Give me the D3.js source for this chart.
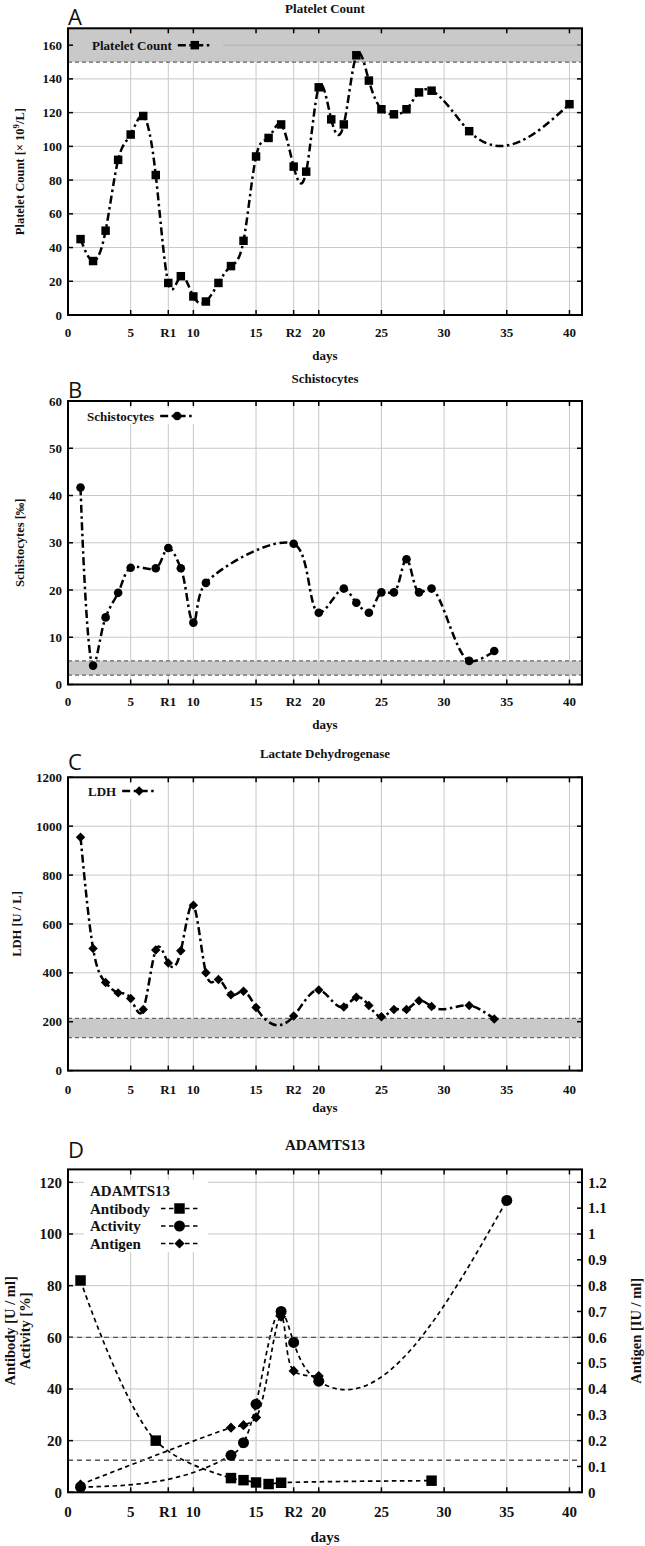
<!DOCTYPE html>
<html lang="en">
<head>
<meta charset="UTF-8">
<title>Lab course</title>
<script src="https://cdn.jsdelivr.net/npm/d3@7"></script>
<style>
  html, body { margin: 0; padding: 0; background: #fff; }
  svg { display: block; }
  text { font-family: "Liberation Serif", "Times New Roman", serif; font-weight: bold; fill: #111; }
  .letter { font-family: "Open Sans", "DejaVu Sans", sans-serif; font-weight: normal; }
</style>
</head>
<body>
<svg width="645" height="1546"></svg>
<script>
// x axis (days), R1 / R2 mark the two rituximab doses
var xTicks = [0, 5, 8, 10, 15, 18, 20, 25, 30, 35, 40];
var xTickLabels = ["0", "5", "R1", "10", "15", "R2", "20", "25", "30", "35", "40"];

// A - platelet count
var plateletDays  = [1, 2, 3, 4, 5, 6, 7, 8, 9, 10, 11, 12, 13, 14, 15, 16, 17, 18, 19, 20, 21, 22, 23, 24, 25, 26, 27, 28, 29, 32, 40];
var plateletCount = [45, 32, 50, 92, 107, 118, 83, 19, 23, 11, 8, 19, 29, 44, 94, 105, 113, 88, 85, 135, 116, 113, 154, 139, 122, 119, 122, 132, 133, 109, 125];
var plateletRange = [150, 450];

// B - schistocytes
var schistoDays   = [1, 2, 3, 4, 5, 7, 8, 9, 10, 11, 18, 20, 22, 23, 24, 25, 26, 27, 28, 29, 32, 34];
var schistoValues = [41.7, 4, 14.2, 19.4, 24.7, 24.6, 28.9, 24.6, 13.1, 21.5, 29.8, 15.2, 20.3, 17.3, 15.2, 19.5, 19.5, 26.5, 19.5, 20.3, 5, 7.1];
var schistoRange  = [2, 5];

// C - lactate dehydrogenase
var ldhDays   = [1, 2, 3, 4, 5, 6, 7, 8, 9, 10, 11, 12, 13, 14, 15, 18, 20, 22, 23, 24, 25, 26, 27, 28, 29, 32, 34];
var ldhValues = [955, 500, 360, 318, 295, 250, 493, 440, 490, 677, 400, 373, 310, 325, 258, 223, 330, 260, 300, 266, 220, 250, 250, 286, 262, 266, 211];
var ldhRange  = [135, 214];

// D - ADAMTS13
var antibodyDays   = [1, 7, 13, 14, 15, 16, 17, 29];
var antibodyValues = [82, 20, 5.5, 4.7, 3.8, 3.2, 3.7, 4.5];
var activityDays   = [1, 13, 14, 15, 17, 18, 20, 35];
var activityValues = [2, 14.3, 19.2, 34.1, 70, 58, 43, 113];
var antigenDays    = [1, 13, 14, 15, 17, 18, 20];
var antigenValues  = [0.03, 0.25, 0.26, 0.29, 0.68, 0.47, 0.45];
var adamtsLines    = [12.4, 60];

var svg = d3.select("svg");
var x = d3.scaleLinear().domain([0, 41]).range([68, 582]);
var midX = (x.range()[0] + x.range()[1]) / 2;

// natural cubic spline y(x), like gnuplot "smooth csplines"
function curveSplineX(context) {
    var pts;
    return {
        areaStart: function () {}, areaEnd: function () {},
        lineStart: function () { pts = []; },
        point: function (px, py) { pts.push([px, py]); },
        lineEnd: function () {
            var n = pts.length;
            if (!n) return;
            context.moveTo(pts[0][0], pts[0][1]);
            if (n < 3) { for (var k = 1; k < n; k++) context.lineTo(pts[k][0], pts[k][1]); return; }
            var h = [], M = new Array(n).fill(0), i;
            for (i = 0; i < n - 1; i++) h[i] = pts[i + 1][0] - pts[i][0];
            var cp = [], rp = [];
            for (i = 1; i < n - 1; i++) {
                var a = h[i - 1], b = 2 * (h[i - 1] + h[i]), c = h[i];
                var r = 6 * ((pts[i + 1][1] - pts[i][1]) / h[i] - (pts[i][1] - pts[i - 1][1]) / h[i - 1]);
                var den = b - (i > 1 ? a * cp[i - 1] : 0);
                cp[i] = c / den;
                rp[i] = (r - (i > 1 ? a * rp[i - 1] : 0)) / den;
            }
            for (i = n - 2; i >= 1; i--) M[i] = rp[i] - cp[i] * M[i + 1];
            for (i = 0; i < n - 1; i++) {
                var x0 = pts[i][0], y0 = pts[i][1], x1 = pts[i + 1][0], y1 = pts[i + 1][1], hh = h[i];
                var s = (y1 - y0) / hh;
                var d0 = s - hh * (2 * M[i] + M[i + 1]) / 6;
                var d1 = s + hh * (M[i] + 2 * M[i + 1]) / 6;
                context.bezierCurveTo(x0 + hh / 3, y0 + hh / 3 * d0, x1 - hh / 3, y1 - hh / 3 * d1, x1, y1);
            }
        }
    };
}
var curveCR = d3.curveCatmullRom.alpha(0.5);

var sq = function (s) { return d3.symbol(d3.symbolSquare, s)(); };
var ci = function (s) { return d3.symbol(d3.symbolCircle, s)(); };

function marker(g, type, size, px, py) {
    var m = g.append("path").attr("fill", "#000").attr("transform", "translate(" + px + "," + py + ")" + (type === "diamond" ? " rotate(45)" : ""));
    m.attr("d", type === "circle" ? ci(size) : sq(size));
}

// frame, grid, ticks, labels of one panel
function panel(o) {
    var g = svg.append("g");
    var y = d3.scaleLinear().domain(o.yDomain).range([o.bottom, o.top]);
    var x0 = x.range()[0], x1 = x.range()[1];
    var clipId = "clip" + o.letter;
    svg.append("clipPath").attr("id", clipId).append("rect")
        .attr("x", x0).attr("y", o.top).attr("width", x1 - x0).attr("height", o.bottom - o.top);

    // grid
    g.selectAll(".gx").data(xTicks).enter().append("line")
        .attr("x1", function (d) { return x(d); }).attr("x2", function (d) { return x(d); })
        .attr("y1", o.top).attr("y2", o.bottom).attr("stroke", "#c8c8c8").attr("stroke-width", 1);
    g.selectAll(".gy").data(o.yTicks).enter().append("line")
        .attr("x1", x0).attr("x2", x1)
        .attr("y1", function (d) { return y(d); }).attr("y2", function (d) { return y(d); })
        .attr("stroke", "#c8c8c8").attr("stroke-width", 1);

    // normal range band
    if (o.band) {
        var bt = Math.min(o.band[1], o.yDomain[1]);
        g.append("rect").attr("x", x0).attr("width", x1 - x0)
            .attr("y", y(bt)).attr("height", y(o.band[0]) - y(bt)).attr("fill", "#c9c9c9");
        o.band.forEach(function (v) {
            if (v >= o.yDomain[1]) return;
            g.append("line").attr("x1", x0).attr("x2", x1).attr("y1", y(v)).attr("y2", y(v))
                .attr("stroke", "#666").attr("stroke-width", 1.2).attr("stroke-dasharray", "4,3");
        });
    }

    // ticks inward
    var tl = 5;
    xTicks.forEach(function (d) {
        g.append("line").attr("x1", x(d)).attr("x2", x(d)).attr("y1", o.bottom).attr("y2", o.bottom - tl).attr("stroke", "#000").attr("stroke-width", 1.5);
        g.append("line").attr("x1", x(d)).attr("x2", x(d)).attr("y1", o.top).attr("y2", o.top + tl).attr("stroke", "#000").attr("stroke-width", 1.5);
    });
    o.yTicks.forEach(function (d) {
        g.append("line").attr("x1", x0).attr("x2", x0 + tl).attr("y1", y(d)).attr("y2", y(d)).attr("stroke", "#000").attr("stroke-width", 1.5);
        if (!o.y2) g.append("line").attr("x1", x1).attr("x2", x1 - tl).attr("y1", y(d)).attr("y2", y(d)).attr("stroke", "#000").attr("stroke-width", 1.5);
    });

    // tick labels
    g.selectAll(".xl").data(xTicks).enter().append("text")
        .attr("x", function (d) { return x(d); }).attr("y", o.xLabelY).attr("dy", "0.35em")
        .attr("text-anchor", "middle").attr("font-size", o.fs).text(function (d, i) { return xTickLabels[i]; });
    g.selectAll(".yl").data(o.yTicks).enter().append("text")
        .attr("x", x0 - 6).attr("y", function (d) { return y(d); }).attr("dy", "0.35em")
        .attr("text-anchor", "end").attr("font-size", o.fs).text(function (d) { return d; });

    g.append("text").attr("x", midX).attr("y", o.daysY).attr("dy", "0.35em").attr("text-anchor", "middle")
        .attr("font-size", o.fs).text("days");
    g.append("text").attr("x", midX).attr("y", o.titleY).attr("dy", "0.35em").attr("text-anchor", "middle")
        .attr("font-size", o.tfs).text(o.title);
    g.append("text").attr("class", "letter").attr("x", x0).attr("y", o.letterY).attr("dy", "0.36em")
        .attr("font-size", 22).text(o.letter);

    o.yLabel.forEach(function (t) {
        var lbl = g.append("text").attr("transform", "translate(" + t.x + "," + (o.top + o.bottom) / 2 + ") rotate(-90)")
            .attr("dy", "0.35em").attr("text-anchor", "middle").attr("font-size", o.lfs);
        if (t.sup) {
            lbl.append("tspan").text(t.text);
            lbl.append("tspan").attr("baseline-shift", "super").attr("font-size", o.lfs * 0.7).text(t.sup);
            lbl.append("tspan").text(t.after);
        } else lbl.text(t.text);
    });

    var plot = svg.append("g").attr("clip-path", "url(#" + clipId + ")");
    return { g: g, y: y, plot: plot, frame: function () {
        svg.append("rect").attr("x", x0).attr("y", o.top).attr("width", x1 - x0).attr("height", o.bottom - o.top)
            .attr("fill", "none").attr("stroke", "#000").attr("stroke-width", 2);
    } };
}

function series(p, y, days, vals, curve, type, size, style) {
    var pts = days.map(function (d, i) { return [x(d), y(vals[i])]; });
    p.plot.append("path").attr("d", d3.line().curve(curve)(pts))
        .attr("fill", "none").attr("stroke", "#000").attr("stroke-width", style.w).attr("stroke-dasharray", style.dash);
    var mg = svg.append("g");
    pts.forEach(function (q) { marker(mg, type, size, q[0], q[1]); });
}

function legendEntry(label, lx, ly, fs, type, size, style, sx0, sx1) {
    var t = svg.append("text").attr("x", lx).attr("y", ly).attr("dy", "0.35em").attr("font-size", fs).text(label);
    var a = sx0 != null ? sx0 : lx + t.node().getComputedTextLength() + 6;
    var b = sx1 != null ? sx1 : a + 34;
    svg.append("line").attr("x1", a).attr("x2", b).attr("y1", ly).attr("y2", ly)
        .attr("stroke", "#000").attr("stroke-width", style.w).attr("stroke-dasharray", style.dash);
    marker(svg, type, size, (a + b) / 2, ly);
}

var dashDot = { w: 2.5, dash: "8,3.5,2.5,3.5" };
var dashed = { w: 1.7, dash: "4.5,3.5" };

// ---------- A ----------
var pA = panel({ letter: "A", title: "Platelet Count", top: 28.3, bottom: 315, yDomain: [0, 170],
    yTicks: [0, 20, 40, 60, 80, 100, 120, 140, 160], band: plateletRange,
    xLabelY: 332, daysY: 355, titleY: 8, letterY: 17.5, fs: 13, tfs: 13, lfs: 12.5,
    yLabel: [{ x: 20, text: "Platelet Count [× 10", sup: "9", after: "/L]" }] });
// 160 grid line runs on top of the band right of the legend
pA.g.append("line").attr("x1", 223).attr("x2", 582).attr("y1", pA.y(160)).attr("y2", pA.y(160)).attr("stroke", "#b0b0b0");
series(pA, pA.y, plateletDays, plateletCount, curveSplineX, "square", 72, dashDot);
legendEntry("Platelet Count", 92, pA.y(160), 13, "square", 72, dashDot);
pA.frame();

// ---------- B ----------
var pB = panel({ letter: "B", title: "Schistocytes", top: 401, bottom: 684.5, yDomain: [0, 60],
    yTicks: [0, 10, 20, 30, 40, 50, 60], band: schistoRange,
    xLabelY: 701, daysY: 724, titleY: 378, letterY: 390, fs: 13, tfs: 13, lfs: 12.5,
    yLabel: [{ x: 20, text: "Schistocytes [‰]" }] });
svg.append("rect").attr("x", 84).attr("y", 408).attr("width", 118).attr("height", 16).attr("fill", "#fff");
series(pB, pB.y, schistoDays, schistoValues, curveCR, "circle", 58, dashDot);
legendEntry("Schistocytes", 87, 416, 13, "circle", 58, dashDot);
pB.frame();

// ---------- C ----------
var pC = panel({ letter: "C", title: "Lactate Dehydrogenase", top: 777.3, bottom: 1070.6, yDomain: [0, 1200],
    yTicks: [0, 200, 400, 600, 800, 1000, 1200], band: ldhRange,
    xLabelY: 1089, daysY: 1107, titleY: 753, letterY: 762, fs: 13, tfs: 13, lfs: 12.5,
    yLabel: [{ x: 17, text: "LDH [U / L]" }] });
svg.append("rect").attr("x", 84).attr("y", 783).attr("width", 80).attr("height", 16).attr("fill", "#fff");
series(pC, pC.y, ldhDays, ldhValues, curveSplineX, "diamond", 45, dashDot);
legendEntry("LDH", 88, 791, 13, "diamond", 45, dashDot);
pC.frame();

// ---------- D ----------
var pD = panel({ letter: "D", title: "ADAMTS13", top: 1169.4, bottom: 1492.3, yDomain: [0, 125], y2: true,
    yTicks: [0, 20, 40, 60, 80, 100, 120],
    xLabelY: 1512, daysY: 1537, titleY: 1145, letterY: 1150, fs: 15, tfs: 15, lfs: 14.5,
    yLabel: [{ x: 10, text: "Antibody [U / ml]" }, { x: 25, text: "Activity [%]" }] });
var y2 = d3.scaleLinear().domain([0, 1.25]).range([1492.3, 1169.4]);
var y2Ticks = d3.range(0, 1.21, 0.1).map(function (v) { return Math.round(v * 10) / 10; });
y2Ticks.forEach(function (d) {
    svg.append("line").attr("x1", 582).attr("x2", 577).attr("y1", y2(d)).attr("y2", y2(d)).attr("stroke", "#000").attr("stroke-width", 1.5);
    svg.append("text").attr("x", 588).attr("y", y2(d)).attr("dy", "0.35em").attr("font-size", 15).text(d);
});
svg.append("text").attr("transform", "translate(636," + (1169.4 + 1492.3) / 2 + ") rotate(-90)")
    .attr("dy", "0.35em").attr("text-anchor", "middle").attr("font-size", 14.5).text("Antigen [IU / ml]");
adamtsLines.forEach(function (v) {
    svg.append("line").attr("x1", 68).attr("x2", 582).attr("y1", pD.y(v)).attr("y2", pD.y(v))
        .attr("stroke", "#555").attr("stroke-width", 1.3).attr("stroke-dasharray", "5,4");
});
svg.append("rect").attr("x", 84).attr("y", 1180).attr("width", 124).attr("height", 72).attr("fill", "#fff");
series(pD, pD.y, antibodyDays, antibodyValues, curveCR, "square", 110, dashed);
series(pD, pD.y, activityDays, activityValues, curveSplineX, "circle", 95, dashed);
series(pD, y2, antigenDays, antigenValues, curveCR, "diamond", 52, dashed);
svg.append("text").attr("x", 90).attr("y", 1191).attr("dy", "0.35em").attr("font-size", 15).text("ADAMTS13");
legendEntry("Antibody", 90, 1208.5, 15, "square", 110, dashed, 161, 198);
legendEntry("Activity", 90, 1226, 15, "circle", 95, dashed, 161, 198);
legendEntry("Antigen", 90, 1243.5, 15, "diamond", 52, dashed, 161, 198);
pD.frame();
</script>
</body>
</html>
